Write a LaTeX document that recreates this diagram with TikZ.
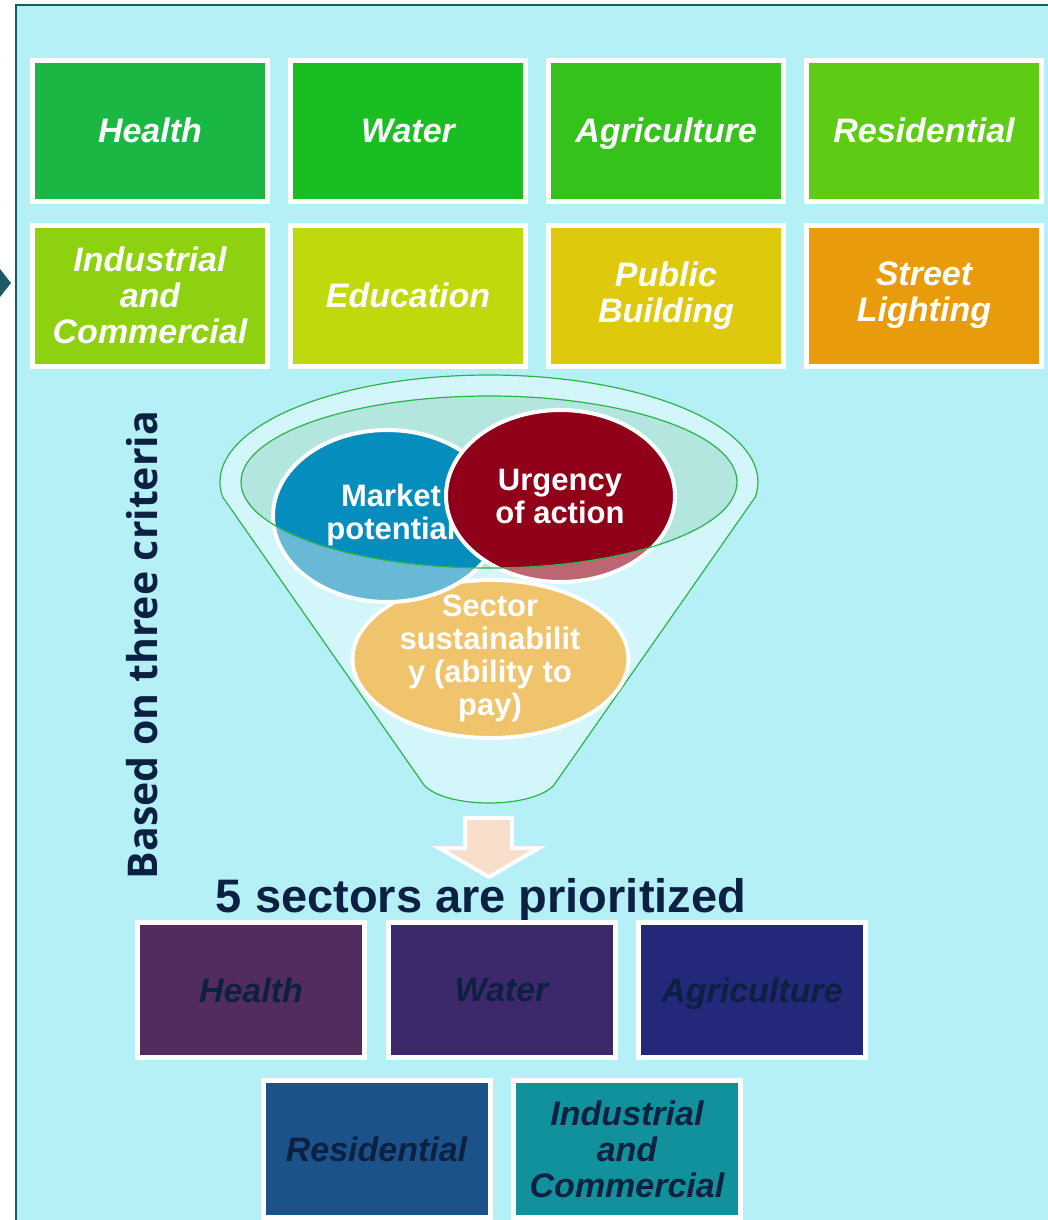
\documentclass[tikz,border=0pt]{standalone}
\usepackage{fontspec}
\setmainfont{Liberation Sans}
\newfontfamily\critfont{Open Sans}
\usetikzlibrary{positioning}

\definecolor{bgcyan}{HTML}{B5F0F6}
\definecolor{edgeteal}{HTML}{1C5A66}
\definecolor{navy}{HTML}{0C2142}
\definecolor{c1}{HTML}{1BB744}
\definecolor{c2}{HTML}{18BE22}
\definecolor{c3}{HTML}{35C21B}
\definecolor{c4}{HTML}{5ECC14}
\definecolor{c5}{HTML}{8DD110}
\definecolor{c6}{HTML}{BFD90D}
\definecolor{c7}{HTML}{DEC90C}
\definecolor{c8}{HTML}{E89C0C}
\definecolor{d1}{HTML}{532C5F}
\definecolor{d2}{HTML}{3E286C}
\definecolor{d3}{HTML}{23287A}
\definecolor{d4}{HTML}{1C528A}
\definecolor{d5}{HTML}{11919B}
\definecolor{rimgreen}{HTML}{2DB34B}
\definecolor{funnelfill}{HTML}{D2F6F9}
\definecolor{innerfill}{HTML}{B3E6DF}
\definecolor{marketdark}{HTML}{058DBE}
\definecolor{marketlight}{HTML}{67B9D6}
\definecolor{urgdark}{HTML}{900018}
\definecolor{urglight}{HTML}{BD6673}
\definecolor{sectorfill}{HTML}{F0C46D}
\definecolor{arrowfill}{HTML}{F8DECB}

\begin{document}
\begin{tikzpicture}[x=1pt,y=-1pt,
    tile/.style={draw=white, line width=5pt, align=center,
        font=\fontsize{34}{36}\selectfont\bfseries\itshape},
    topbox/.style={tile, text=white, minimum width=234pt, minimum height=141pt},
    pickbox/.style={tile, text=navy, minimum width=227pt},
    blob/.style={draw=white, line width=4pt},
    blobtext/.style={text=white, align=center, font=\fontsize{31}{33}\selectfont\bfseries},
    rim/.style={draw=rimgreen, line width=1.2pt}]
\useasboundingbox (0,0) rectangle (1048,1220);
\fill[white] (0,0) rectangle (1048,1220);
\fill[bgcyan] (16,5) rectangle (1048,1220);
\draw[edgeteal, line width=2pt] (16,1220) -- (16,5) -- (1048,5);
\fill[edgeteal] (0,269) -- (11,283) -- (0,297) -- cycle;

% all sectors
\matrix (grid) at (537,213) [column sep=19pt, row sep=19pt, nodes={anchor=center}] {
    \node[topbox, fill=c1] (health) {Health}; &
    \node[topbox, fill=c2] (water) {Water}; &
    \node[topbox, fill=c3, text depth=0pt] (agri) {Agriculture}; &
    \node[topbox, fill=c4] (resid) {Residential}; \\
    \node[topbox, fill=c5] (indus) {Industrial\\and\\Commercial}; &
    \node[topbox, fill=c6] (educ) {Education}; &
    \node[topbox, fill=c7] (public) {Public\\Building}; &
    \node[topbox, fill=c8] (street) {Street\\Lighting}; \\
};

% funnel
\draw[rim, fill=funnelfill] (222.6,496.9) arc[start angle=172, end angle=368, x radius=269, y radius=107]
    -- (554,785) .. controls (532,809) and (446,809) .. (424,785) -- cycle;
\fill[innerfill] (489,482) ellipse[x radius=248, y radius=86];

% three criteria
\draw[blob, fill=sectorfill] (490.5,659) ellipse[x radius=138, y radius=79];
\fill[marketlight] (387,516) ellipse[x radius=114, y radius=86];
\begin{scope}
    \clip (489,482) ellipse[x radius=248, y radius=86];
    \fill[marketdark] (387,516) ellipse[x radius=114, y radius=86];
\end{scope}
\draw[blob] (387,516) ellipse[x radius=114, y radius=86];
\node[blobtext] (market) at (391,515) {Market\\potential};
\fill[urglight] (560.5,496) ellipse[x radius=114.5, y radius=86];
\begin{scope}
    \clip (489,482) ellipse[x radius=248, y radius=86];
    \fill[urgdark] (560.5,496) ellipse[x radius=114.5, y radius=86];
\end{scope}
\draw[blob] (560.5,496) ellipse[x radius=114.5, y radius=86];
\node[blobtext] (urgency) at (560,496) {Urgency\\of action};
\node[blobtext] (sustain) at (490,658) {Sector\\sustainabilit\\y (ability to\\pay)};
\draw[rim] (489,482) ellipse[x radius=248, y radius=86];

\node[rotate=90, anchor=base, text=navy, font=\critfont\fontsize{41}{43}\selectfont\bfseries]
    (criteria) at (157,645) {Based on three criteria};

% down arrow
\draw[white, line width=4pt, fill=arrowfill] (465,818) -- (512,818) -- (512,848) -- (539,848)
    -- (489,877) -- (439,848) -- (465,848) -- cycle;
\node[anchor=base, text=navy, font=\fontsize{47}{49}\selectfont\bfseries] (title) at (481,912)
    {5 sectors are prioritized};

% prioritized sectors
\matrix (chosen) at (501.5,990) [column sep=18.5pt, nodes={anchor=center}] {
    \node[pickbox, fill=d1, minimum height=135pt] (phealth) {Health}; &
    \node[pickbox, fill=d2, minimum height=135pt] (pwater) {Water}; &
    \node[pickbox, fill=d3, minimum height=135pt, text depth=0pt] (pagri) {Agriculture}; \\
};
\node[pickbox, fill=d4, minimum height=137pt] (presid) at (376.5,1149) {Residential};
\node[pickbox, fill=d5, minimum height=137pt] (pindus) at (627,1149) {Industrial\\and\\Commercial};
\end{tikzpicture}
\end{document}
